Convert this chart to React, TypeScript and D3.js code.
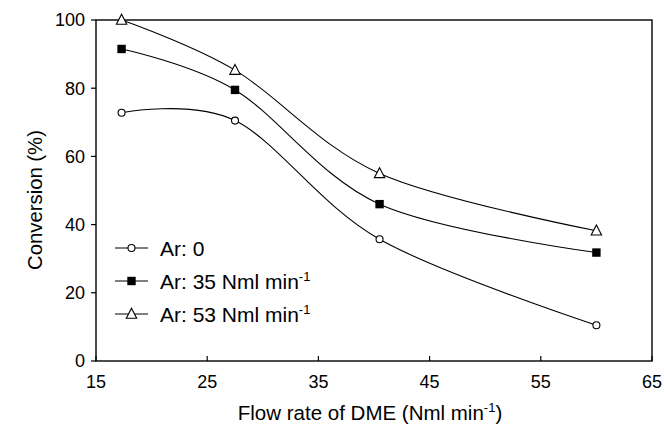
import React from "react";
import * as d3 from "d3";

// flow rate of DME (Nml/min)
const flowRates = [17.3, 27.5, 40.5, 60];
const ar0 = [72.8, 70.5, 35.7, 10.5];
const ar35 = [91.5, 79.5, 46, 31.8];
const ar53 = [100, 85.3, 55, 38.2];

const xTicks = [15, 25, 35, 45, 55, 65];
const yTicks = [0, 20, 40, 60, 80, 100];

const seriesNames = ["Ar: 0", "Ar: 35 Nml min", "Ar: 53 Nml min"];
const seriesSup = ["", "-1", "-1"];
const seriesMarkers = ["circle", "square", "triangle"];

const W = 664;
const H = 427;
const m = { left: 96, right: 652, top: 20, bottom: 361 };
const font = "'Liberation Sans', Arial, sans-serif";

function Marker({ type, x, y }: { type: string; x: number; y: number }) {
  if (type === "circle") {
    return <circle cx={x} cy={y} r={3.5} fill="#fff" stroke="#000" strokeWidth={1.1} />;
  }
  if (type === "square") {
    return <rect x={x - 4.2} y={y - 4.2} width={8.4} height={8.4} fill="#000" />;
  }
  const s = 5.2;
  return (
    <path
      d={`M${x},${y - s - 0.5}L${x + s},${y + s - 1}L${x - s},${y + s - 1}Z`}
      fill="#fff"
      stroke="#000"
      strokeWidth={1.1}
    />
  );
}

export default function App() {
  const x = d3.scaleLinear().domain([15, 65]).range([m.left, m.right]);
  const y = d3.scaleLinear().domain([0, 100]).range([m.bottom, m.top]);

  const line = d3
    .line<number>()
    .x((d, i) => x(flowRates[i]))
    .y((d) => y(d))
    .curve(d3.curveCardinal.tension(0));

  const series = [ar0, ar35, ar53];
  const legendRows = [248, 281, 314];

  return (
    <svg
      width={W}
      height={H}
      style={{ position: "absolute", left: 0, top: 0, background: "#fff" }}
      fontFamily={font}
    >
      <rect x={0} y={0} width={W} height={H} fill="#fff" />

      {/* frame */}
      <rect
        x={m.left}
        y={m.top}
        width={m.right - m.left}
        height={m.bottom - m.top}
        fill="none"
        stroke="#000"
        strokeWidth={1.4}
      />

      {/* y axis */}
      {yTicks.map((t) => (
        <g key={"y" + t}>
          <line x1={m.left - 5} x2={m.left} y1={y(t)} y2={y(t)} stroke="#000" strokeWidth={1.2} />
          <text x={m.left - 11} y={y(t)} dy="0.36em" textAnchor="end" fontSize={18}>
            {t}
          </text>
        </g>
      ))}

      {/* x axis */}
      {xTicks.map((t) => (
        <g key={"x" + t}>
          <line x1={x(t)} x2={x(t)} y1={m.bottom} y2={m.bottom - 5} stroke="#000" strokeWidth={1.2} />
          <text x={x(t)} y={m.bottom + 27} textAnchor="middle" fontSize={18}>
            {t}
          </text>
        </g>
      ))}

      {/* titles */}
      <text x={370} y={420} textAnchor="middle" fontSize={20.5}>
        Flow rate of DME (Nml min
        <tspan fontSize={13} dy={-8}>-1</tspan>
        <tspan dy={8}>)</tspan>
      </text>
      <text
        transform={`translate(42,200) rotate(-90)`}
        textAnchor="middle"
        fontSize={20.3}
      >
        Conversion (%)
      </text>

      {/* series */}
      {series.map((vals, si) => (
        <g key={"s" + si}>
          <path d={line(vals) || ""} fill="none" stroke="#000" strokeWidth={1.1} />
          {vals.map((v, i) => (
            <Marker key={i} type={seriesMarkers[si]} x={x(flowRates[i])} y={y(v)} />
          ))}
        </g>
      ))}

      {/* legend */}
      {seriesNames.map((name, i) => (
        <g key={"l" + i}>
          <line x1={115} x2={148} y1={legendRows[i]} y2={legendRows[i]} stroke="#000" strokeWidth={1.1} />
          <Marker type={seriesMarkers[i]} x={131.5} y={legendRows[i]} />
          <text x={160} y={legendRows[i]} dy="0.36em" fontSize={21}>
            {name}
            {seriesSup[i] && (
              <tspan fontSize={13} dy={-8}>
                {seriesSup[i]}
              </tspan>
            )}
          </text>
        </g>
      ))}
    </svg>
  );
}
